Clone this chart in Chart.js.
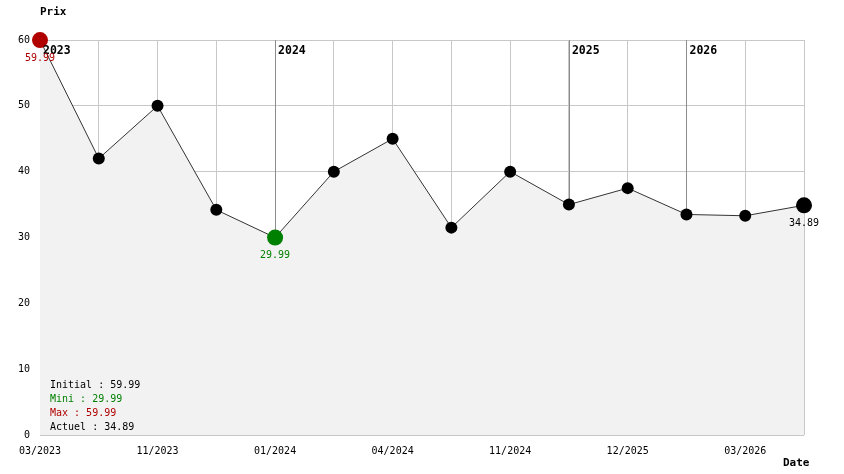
<!DOCTYPE html>
<html><head><meta charset="utf-8">
<script src="https://cdn.jsdelivr.net/npm/chart.js@4/dist/chart.umd.min.js"></script>
<style>html,body{margin:0;padding:0;background:#fff}#wrap{width:844px;height:474px}</style>
</head><body><div id="wrap"><canvas id="c"></canvas></div>
<script>
const dates = ['03/2023','','11/2023','','01/2024','','04/2024','','11/2024','','12/2025','','03/2026',''];
const prices = [59.99, 42, 50, 34.2, 29.99, 40, 45, 31.5, 40, 35, 37.5, 33.5, 33.3, 34.89];
const yearMarks = ['2023','2024','2025','2026'];
const yearIndex = [0, 4, 9, 11];
const yTicks = [0, 10, 20, 30, 40, 50, 60];

const FONT = '"DejaVu Sans Mono", monospace';
const maxV = Math.max(...prices), minV = Math.min(...prices);
const iMax = prices.indexOf(maxV), iMin = prices.indexOf(minV), iLast = prices.length - 1;
const RED = '#b00000', GREEN = '#008000';
const ptColor = prices.map((v,i)=> i===iMax ? RED : (i===iMin ? GREEN : '#000'));
const ptRadius = prices.map((v,i)=> (i===iMax||i===iMin||i===iLast) ? 8 : 6);

const overlay = {
  id: 'overlay',
  beforeDatasetsDraw(chart) {
    const {ctx, chartArea, scales} = chart;
    ctx.save();
    ctx.strokeStyle = '#8c8c8c'; ctx.lineWidth = 1;
    yearIndex.forEach((idx) => {
      const x = Math.round(scales.x.getPixelForValue(idx)) + 0.5;
      ctx.beginPath(); ctx.moveTo(x, chartArea.top); ctx.lineTo(x, chartArea.bottom); ctx.stroke();
    });
    ctx.restore();
  },
  afterDatasetsDraw(chart) {
    const {ctx, chartArea, scales} = chart;
    ctx.save();
    // year labels
    ctx.font = 'bold 11.5px ' + FONT; ctx.fillStyle = '#000';
    ctx.textAlign = 'left'; ctx.textBaseline = 'middle';
    yearIndex.forEach((idx, k) => {
      const x = scales.x.getPixelForValue(idx);
      ctx.fillText(yearMarks[k], x + 3, chartArea.top + 11);
    });
    // data labels
    ctx.font = '10px ' + FONT; ctx.textAlign = 'center'; ctx.textBaseline = 'middle';
    [[iMax, RED], [iMin, GREEN], [iLast, '#000']].forEach(([i, col]) => {
      const x = scales.x.getPixelForValue(i), y = scales.y.getPixelForValue(prices[i]);
      ctx.fillStyle = col;
      ctx.fillText(prices[i].toFixed(2), x, y + 18);
    });
    // summary text
    const lines = [['Initial : ' + prices[0].toFixed(2), '#000'], ['Mini : ' + minV.toFixed(2), GREEN], ['Max : ' + maxV.toFixed(2), RED], ['Actuel : ' + prices[iLast].toFixed(2), '#000']];
    ctx.textAlign = 'left';
    lines.forEach(([t, c], k) => { ctx.fillStyle = c; ctx.fillText(t, chartArea.left + 10, chartArea.bottom - 50 + k * 14); });
    // axis titles
    ctx.font = 'bold 11px ' + FONT; ctx.fillStyle = '#000';
    ctx.fillText('Prix', chartArea.left, 12);
    ctx.fillText('Date', chartArea.right - 21, chart.height - 11);
    ctx.restore();
  }
};

new Chart(document.getElementById('c'), {
  type: 'line',
  data: { labels: dates, datasets: [{
    data: prices, borderColor: '#333', borderWidth: 1, tension: 0,
    fill: 'origin', backgroundColor: '#f2f2f2',
    pointBackgroundColor: ptColor, pointBorderColor: ptColor, pointBorderWidth: 0,
    pointRadius: ptRadius, pointHoverRadius: ptRadius, clip: false
  }]},
  options: {
    responsive: true, maintainAspectRatio: false, animation: false,
    layout: { padding: { top: 40, right: 40, left: 0, bottom: 0 } },
    plugins: { legend: { display: false }, tooltip: { enabled: false } },
    scales: {
      x: {
        offset: false,
        grid: { color: '#c8c8c8', drawTicks: false, lineWidth: 1 },
        border: { display: false },
        ticks: { autoSkip: false, maxRotation: 0, padding: 10, color: '#000', font: { family: FONT, size: 10 } },
        afterFit: s => { s.height = 39; }
      },
      y: {
        min: 0, max: 60,
        afterBuildTicks: s => { s.ticks = yTicks.map(v => ({ value: v })); },
        grid: { color: '#c8c8c8', drawTicks: false },
        border: { display: false },
        ticks: { padding: 10, color: '#000', font: { family: FONT, size: 10 } },
        afterFit: s => { s.width = 40; }
      }
    }
  },
  plugins: [overlay]
});
</script></body></html>
